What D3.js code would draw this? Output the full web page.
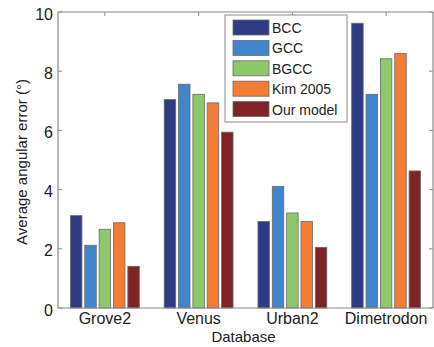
<!DOCTYPE html>
<html>
<head>
<meta charset="utf-8">
<script src="https://cdn.jsdelivr.net/npm/d3@7"></script>
<style>
  body { margin: 0; background: #fff; }
  text { font-family: "Liberation Sans", Arial, sans-serif; fill: #222; }
</style>
</head>
<body>
<div id="chart"></div>
<script>
const databases = ['Grove2', 'Venus', 'Urban2', 'Dimetrodon'];
const methods = ['BCC', 'GCC', 'BGCC', 'Kim 2005', 'Our model'];
const colors = ['#2f3b85', '#4186cd', '#8dc96a', '#f47d35', '#7e2427'];
// rows: database, columns: method
const errBCC = [3.12, 7.04, 2.92, 9.62];
const errGCC = [2.12, 7.56, 4.11, 7.22];
const errBGCC = [2.66, 7.22, 3.21, 8.42];
const errKim = [2.88, 6.93, 2.92, 8.60];
const errOurs = [1.41, 5.94, 2.05, 4.63];
const yTicks = [0, 2, 4, 6, 8, 10];

const series = [errBCC, errGCC, errBGCC, errKim, errOurs];
const data = databases.map((db, i) => ({db, values: series.map((s, k) => ({key: methods[k], v: s[i]}))}));

const width = 434, height = 347;
const margin = {top: 12, right: 1, bottom: 39, left: 58};
const cw = width - margin.left - margin.right, ch = height - margin.top - margin.bottom;
const axisCol = '#8a8a8a';

const svg = d3.select('#chart').append('svg').attr('width', width).attr('height', height);
const g = svg.append('g').attr('transform', `translate(${margin.left},${margin.top})`);

const x0 = d3.scaleBand().domain(databases).range([0, cw]);
const x1 = d3.scaleBand().domain(methods).range([0, x0.bandwidth() * 0.765]).padding(0.2).paddingOuter(0.1);
const y = d3.scaleLinear().domain([0, 10]).range([ch, 0]);
const color = d3.scaleOrdinal().domain(methods).range(colors);

// bars
g.selectAll('g.group').data(data).join('g').attr('class', 'group')
  .attr('transform', d => `translate(${x0(d.db) + x0.bandwidth() * (1 - 0.765) / 2},0)`)
  .selectAll('rect').data(d => d.values).join('rect')
  .attr('x', d => x1(d.key)).attr('width', x1.bandwidth())
  .attr('y', d => y(d.v)).attr('height', d => y(0) - y(d.v))
  .attr('fill', d => color(d.key))
  .attr('stroke', '#6a6a6a').attr('stroke-width', 0.8);

// frame
const frame = g.append('g');
frame.append('line').attr('x1', 0).attr('x2', cw).attr('y1', 0).attr('y2', 0);
frame.append('line').attr('x1', 0).attr('x2', cw).attr('y1', ch).attr('y2', ch);
frame.append('line').attr('x1', 0).attr('x2', 0).attr('y1', 0).attr('y2', ch);
frame.append('line').attr('x1', cw).attr('x2', cw).attr('y1', 0).attr('y2', ch);
frame.selectAll('line').attr('stroke', axisCol).attr('stroke-width', 1.2);

// y axis ticks (inward, both sides)
const yt = g.append('g');
yt.selectAll('line.l').data(yTicks).join('line').attr('class', 'l')
  .attr('x1', 0).attr('x2', 4).attr('y1', d => y(d)).attr('y2', d => y(d));
yt.selectAll('line.r').data(yTicks).join('line').attr('class', 'r')
  .attr('x1', cw - 4).attr('x2', cw).attr('y1', d => y(d)).attr('y2', d => y(d));
yt.selectAll('line').attr('stroke', axisCol).attr('stroke-width', 1);
yt.selectAll('text').data(yTicks).join('text')
  .attr('x', -5).attr('y', d => y(d) + 2).attr('dy', '0.35em')
  .attr('text-anchor', 'end').attr('font-size', 16).text(d => d);

// x axis ticks (inward, top and bottom)
const xt = g.append('g');
xt.selectAll('line.t').data(databases).join('line').attr('class', 't')
  .attr('x1', d => x0(d) + x0.bandwidth() / 2).attr('x2', d => x0(d) + x0.bandwidth() / 2)
  .attr('y1', 0).attr('y2', 4);
xt.selectAll('line').attr('stroke', axisCol).attr('stroke-width', 1);
xt.selectAll('text').data(databases).join('text')
  .attr('x', d => x0(d) + x0.bandwidth() / 2).attr('y', ch + 16)
  .attr('text-anchor', 'middle').attr('font-size', 16).text(d => d);

// axis titles
svg.append('text').attr('x', margin.left + cw / 2 - 2).attr('y', 342)
  .attr('text-anchor', 'middle').attr('font-size', 15).text('Database');
svg.append('text').attr('transform', `translate(27,${margin.top + ch / 2 + 2}) rotate(-90)`)
  .attr('text-anchor', 'middle').attr('font-size', 15).text('Average angular error (°)');

// legend
const leg = svg.append('g').attr('transform', 'translate(225,15)');
leg.append('rect').attr('width', 122).attr('height', 107)
  .attr('fill', '#fff').attr('stroke', '#8a8a8a').attr('stroke-width', 1);
const items = leg.selectAll('g.item').data(methods).join('g').attr('class', 'item')
  .attr('transform', (d, i) => `translate(8,${5 + i * 20.4})`);
items.append('rect').attr('width', 36).attr('height', 15)
  .attr('fill', d => color(d)).attr('stroke', '#6a6a6a').attr('stroke-width', 0.8);
items.append('text').attr('x', 39).attr('y', 8).attr('dy', '0.35em')
  .attr('font-size', 14).text(d => d);
</script>
</body>
</html>
